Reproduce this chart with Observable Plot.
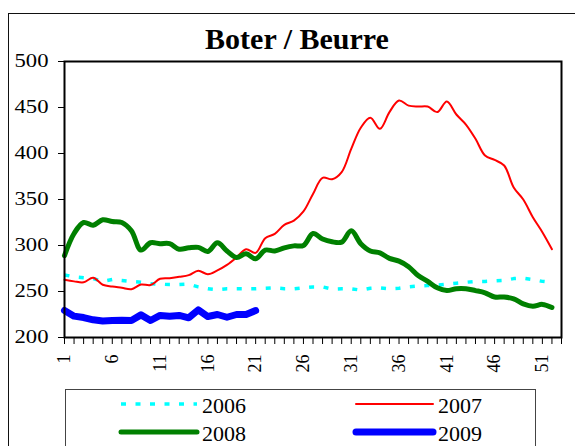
<!DOCTYPE html>
<html>
<head>
<meta charset="utf-8">
<script src="https://cdn.jsdelivr.net/npm/d3@7"></script>
<script src="https://cdn.jsdelivr.net/npm/@observablehq/plot@0.6"></script>
<style>
  body { margin: 0; background: #fff; }
  #wrap { position: relative; width: 575px; height: 446px; overflow: hidden; font-family: "Liberation Serif", "Times New Roman", serif; }
  #frame { position: absolute; left: 8px; top: 13px; width: 620px; height: 520px; border: 1.5px solid #111; box-sizing: border-box; }
  #title { position: absolute; left: 0; width: 594px; top: 24px; text-align: center; font-weight: bold; font-size: 30px; line-height: 30px; color: #000; }
  #chart { position: absolute; left: 0; top: 0; }
  #legend { position: absolute; left: 0; top: 0; }
</style>
</head>
<body>
<div id="wrap">
  <div id="frame"></div>
  <div id="title">Boter / Beurre</div>
  <div id="chart"></div>
  <svg id="legend" width="575" height="446"></svg>
</div>
<script>
// Series (weekly values, week 1 onwards)
const series2006 = [268,266,265,264,261,263,262,261,260,258.5,258,257.5,257.5,258,255,253,252,253,253,253,253,253.5,254,253,253,254,255,255,252.5,253,253,251.5,253.5,254,253,253.5,255,256,256.5,257,258,259,260,261,261,261.5,262,264,264.5,263,261,260];
const series2007 = [262.7,261,260,265,257.3,255.4,254,252.5,257.6,257,263.8,264.5,266,267.8,272.5,268.8,273,279,287,296,292,308,312.7,322.5,327,337,356,373.6,372,379.7,405,428,438.8,426.8,445,457.6,452,451,451,445,456.5,442.4,431.5,416,397.8,393,387,363,350,330.8,314.5,296];
const series2008 = [289,313,325,322,328,326,325,316,295,303,302,302,296,297.5,298,293.5,303,294,287,291,285.5,295,294,297.5,299.6,300,313,307,304,303.7,316,302,294,292,286,283,277,267.4,261,254,251,253,253,251,248.6,244,244,242,236.6,234,236,232.6];
const series2009 = [229.3,223.2,221.7,219.2,218,218.5,218.8,218.5,224.6,218.5,224,223,224,221.4,230,222.8,225,222,225,225,229.3];

const seriesNames = ["2006", "2007", "2008", "2009"];
const yTicks = [200, 250, 300, 350, 400, 450, 500];
const xTickLabels = [1, 6, 11, 16, 21, 26, 31, 36, 41, 46, 51];
const xCategories = [1,2,3,4,5,6,7,8,9,10,11,12,13,14,15,16,17,18,19,20,21,22,23,24,25,26,27,28,29,30,31,32,33,34,35,36,37,38,39,40,41,42,43,44,45,46,47,48,49,50,51,52,53];

const toRows = (arr, name) => arr.map((v, i) => ({week: i + 1, value: v, series: name}));
const d2006 = toRows(series2006, "2006");
const d2007 = toRows(series2007, "2007");
const d2008 = toRows(series2008, "2008");
const d2009 = toRows(series2009, "2009");

const styles = {
  "2006": {stroke: "#00FFFF", strokeWidth: 3.5, strokeDasharray: "5,9.5", curve: "linear", cap: "butt"},
  "2007": {stroke: "#FF0000", strokeWidth: 2, curve: "catmull-rom", cap: "round"},
  "2008": {stroke: "#008000", strokeWidth: 5, curve: "catmull-rom", cap: "round"},
  "2009": {stroke: "#0000FF", strokeWidth: 7, curve: "linear", cap: "round"}
};

const lineMark = (rows, name) => Plot.line(rows, {
  x: "week", y: "value",
  stroke: styles[name].stroke,
  strokeWidth: styles[name].strokeWidth,
  strokeDasharray: styles[name].strokeDasharray,
  strokeLinecap: styles[name].cap,
  strokeLinejoin: "round",
  curve: styles[name].curve
});

const plot = Plot.plot({
  width: 575,
  height: 446,
  marginLeft: 64,
  marginRight: 14,
  marginTop: 61,
  marginBottom: 109,
  x: {type: "linear", domain: [1, 53]},
  y: {domain: [200, 500]},
  style: {fontFamily: "'Liberation Serif', 'Times New Roman', serif", fontSize: "18px", color: "#000", background: "transparent", overflow: "visible"},
  marks: [
    Plot.axisY({ticks: yTicks, tickSize: 6, tickPadding: 10, label: null, fontSize: 18}),
    Plot.axisX({ticks: xCategories, tickSize: 7, tickPadding: 10, tickRotate: -90, label: null, fontSize: 18,
      tickFormat: d => xTickLabels.includes(d) ? String(d) : ""}),
    lineMark(d2006, "2006"),
    lineMark(d2007, "2007"),
    lineMark(d2008, "2008"),
    lineMark(d2009, "2009"),
    Plot.frame({stroke: "#000", strokeWidth: 2})
  ]
});
document.getElementById("chart").appendChild(plot);

// widen y tick labels as in the reference
plot.querySelectorAll('g[aria-label="y-axis tick label"] text').forEach(t => {
  t.setAttribute("textLength", 34);
  t.setAttribute("lengthAdjust", "spacingAndGlyphs");
});

// Legend
const lg = d3.select("#legend");
lg.append("rect").attr("x", 65.5).attr("y", 389.5).attr("width", 470).attr("height", 90)
  .attr("fill", "#fff").attr("stroke", "#444").attr("stroke-width", 1);
const legendPos = [
  {x1: 121, x2: 197, tx: 202, y: 404, ty: 412.5},
  {x1: 356, x2: 433, tx: 438, y: 404, ty: 412.5},
  {x1: 121, x2: 197, tx: 202, y: 432, ty: 440.5},
  {x1: 356, x2: 433, tx: 438, y: 432, ty: 440.5}
];
seriesNames.forEach((name, i) => {
  const p = legendPos[i], s = styles[name];
  lg.append("line").attr("x1", p.x1).attr("x2", p.x2).attr("y1", p.y).attr("y2", p.y)
    .attr("stroke", s.stroke).attr("stroke-width", s.strokeWidth)
    .attr("stroke-dasharray", s.strokeDasharray || null)
    .attr("stroke-linecap", s.cap);
  lg.append("text").attr("x", p.tx).attr("y", p.ty).text(name)
    .attr("font-family", "'Liberation Serif', 'Times New Roman', serif").attr("font-size", 22).attr("fill", "#000");
});
</script>
</body>
</html>
